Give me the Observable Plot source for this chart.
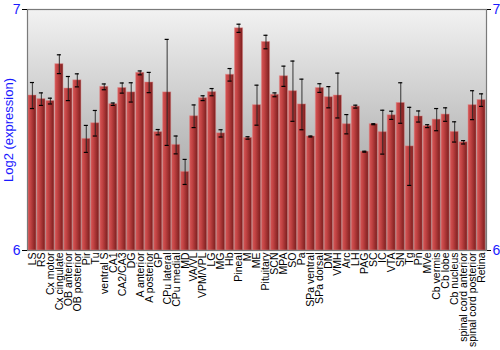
<!DOCTYPE html>
<html>
<head>
<meta charset="utf-8">
<script src="https://cdn.jsdelivr.net/npm/d3@7"></script>
<script src="https://cdn.jsdelivr.net/npm/@observablehq/plot@0.6"></script>
<style>
  html, body { margin: 0; padding: 0; background: #fff; }
  svg { display: block; }
</style>
</head>
<body>
<div id="chart"></div>
<script>
const labels = ["LS","RS","Cx motor","Cx cingulate","OB anterior","OB posterior","Pir","Tu","ventral S","CA1","CA2/CA3","DG","A anterior","A posterior","GP","CPu lateral","CPu medial","MD","VA/VL","VPM/VPL","LG","MG","Hb","Pineal","M","ME","Pituitary","SCN","MPA","SO","Pa","SPa ventral","SPa dorsal","DM","VMH","Arc","LH","PAG","SC","IC","VTA","SN","Tg","Pn","MVe","Cb vermis","Cb lobe","Cb nucleus","spinal cord anterior","spinal cord posterior","Retina"];
const values = [6.643,6.628,6.620,6.773,6.672,6.706,6.463,6.528,6.679,6.607,6.674,6.656,6.737,6.697,6.491,6.656,6.438,6.326,6.557,6.632,6.657,6.486,6.729,6.922,6.467,6.603,6.865,6.646,6.723,6.661,6.606,6.473,6.674,6.636,6.643,6.524,6.597,6.410,6.524,6.491,6.561,6.612,6.432,6.556,6.516,6.543,6.564,6.492,6.449,6.603,6.624];
const errors = [0.054,0.026,0.012,0.039,0.050,0.027,0.056,0.053,0.012,0.005,0.021,0.040,0.008,0.042,0.011,0.220,0.037,0.052,0.047,0.010,0.015,0.015,0.026,0.017,0.005,0.083,0.028,0.008,0.042,0.125,0.105,0.002,0.018,0.044,0.093,0.040,0.006,0.002,0.002,0.091,0.017,0.084,0.162,0.023,0.006,0.046,0.028,0.042,0.007,0.060,0.026];
const yTicks = [6, 7];

const data = labels.map((label, i) => ({label, value: values[i], lo: values[i] - errors[i], hi: values[i] + errors[i]}));

const blue = "#1a1aff";
const svg = Plot.plot({
  width: 500,
  height: 350,
  marginLeft: 27,
  marginRight: 14,
  marginTop: 9,
  marginBottom: 100,
  style: {fontFamily: "'Liberation Sans', Arial, sans-serif", background: "#fff"},
  x: {domain: labels, paddingInner: 0.1, paddingOuter: 0.1},
  y: {domain: [6, 7]},
  marks: [
    Plot.frame({fill: "url(#bgGrad)", stroke: "none"}),
    Plot.barY(data, {x: "label", y1: 6, y2: "value", fill: "url(#barGrad)", stroke: "#e08080", strokeOpacity: 0.45, strokeWidth: 1}),
    Plot.ruleX(data, {x: "label", y1: "lo", y2: "hi", stroke: "#222", strokeOpacity: 0.75, strokeWidth: 1.2}),
    Plot.tickY(data, {x: "label", y: "lo", stroke: "#000", strokeWidth: 1.2, insetLeft: 2, insetRight: 2}),
    Plot.tickY(data, {x: "label", y: "hi", stroke: "#000", strokeWidth: 1.2, insetLeft: 2, insetRight: 2}),
    Plot.frame({stroke: "#7a7a7a", strokeWidth: 1.2}),
    Plot.axisX({tickRotate: -90, tickSize: 0, tickPadding: 2, fontSize: 10.5, label: null, fill: "#000"}),
    Plot.axisY({anchor: "left", ticks: yTicks, tickSize: 5, tickPadding: 2, fontSize: 14, fill: blue, stroke: "#000", tickFormat: d3.format("d"),
      label: "Log2 (expression)", labelAnchor: "center", labelArrow: "none", labelOffset: 24}),
    Plot.axisY({anchor: "right", ticks: yTicks, tickSize: 4, tickPadding: 2, fontSize: 14, fill: blue, stroke: "#000", tickFormat: d3.format("d"), label: null})
  ]
});

const defs = d3.select(svg).insert("defs", ":first-child");
const bg = defs.append("linearGradient").attr("id", "bgGrad").attr("x1", 0).attr("y1", 0).attr("x2", 0).attr("y2", 1);
bg.append("stop").attr("offset", "0%").attr("stop-color", "#f2f2f2");
bg.append("stop").attr("offset", "100%").attr("stop-color", "#8e8e8e");
const bar = defs.append("linearGradient").attr("id", "barGrad").attr("x1", 0).attr("y1", 0).attr("x2", 1).attr("y2", 0);
bar.append("stop").attr("offset", "0%").attr("stop-color", "#d65656");
bar.append("stop").attr("offset", "35%").attr("stop-color", "#c04242");
bar.append("stop").attr("offset", "100%").attr("stop-color", "#7a1d1d");

// y-axis label styling
d3.select(svg).selectAll("text").filter(function() { return this.textContent === "Log2 (expression)"; })
  .attr("fill", blue).style("font-size", "13px");

document.getElementById("chart").appendChild(svg);
</script>
</body>
</html>
